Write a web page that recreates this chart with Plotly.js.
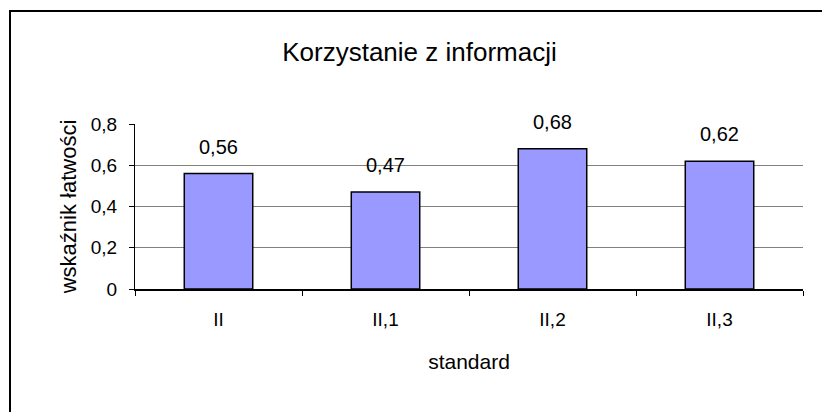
<!DOCTYPE html>
<html>
<head>
<meta charset="utf-8">
<script src="https://cdn.plot.ly/plotly-3.0.1.min.js"></script>
<style>
html,body{margin:0;padding:0;background:#fff;}
#chart{width:822px;height:412px;}
</style>
</head>
<body>
<div id="chart"></div>
<script>
const categories = ["II", "II,1", "II,2", "II,3"];
const values = [0.56, 0.47, 0.68, 0.62];
const chartTitle = "Korzystanie z informacji";
const xTitle = "standard";
const yTitle = "wskaźnik łatwości";

const FONT = "Arial, 'Liberation Sans', sans-serif";

const trace = {
  type: "bar",
  x: categories,
  y: values,
  marker: { color: "#9999FF", line: { color: "#000000", width: 1.5 } },
  width: 0.41,
  hoverinfo: "x+y"
};

const annotations = categories.map((c, i) => ({
  x: c, y: values[i], xref: "x", yref: "y",
  text: values[i].toFixed(2).replace(".", ","),
  showarrow: false, yanchor: "middle", yshift: 27,
  font: { family: FONT, size: 20, color: "#000" }
}));

const layout = {
  width: 822, height: 412,
  margin: { l: 135, r: 19, t: 124, b: 123 },
  paper_bgcolor: "#fff", plot_bgcolor: "#fff",
  separators: ", ",
  showlegend: false,
  font: { family: FONT, size: 20, color: "#000" },
  title: { text: chartTitle, font: { family: FONT, size: 26, color: "#000" },
           x: 419.5 / 822, xanchor: "center", y: 1 - 52 / 412, yanchor: "middle",
           xref: "container", yref: "container" },
  xaxis: {
    type: "category",
    showline: true, linecolor: "#000", linewidth: 2,
    ticks: "outside", tickson: "boundaries", ticklen: 5, tickcolor: "#000", tickwidth: 1,
    ticklabelstandoff: 12,
    showgrid: false, zeroline: false,
    tickfont: { family: FONT, size: 19, color: "#000" },
    title: { text: xTitle, font: { family: FONT, size: 21, color: "#000" }, standoff: 26 }
  },
  yaxis: {
    range: [0, 0.8], dtick: 0.2, tick0: 0,
    showline: true, linecolor: "#000", linewidth: 1,
    ticks: "outside", ticklen: 5, tickcolor: "#000",
    showgrid: true, gridcolor: "#808080", gridwidth: 1,
    zeroline: false,
    ticklabelstandoff: 8,
    tickfont: { family: FONT, size: 19, color: "#000" },
    title: { text: yTitle, font: { family: FONT, size: 22, color: "#000" }, standoff: 8 }
  },
  annotations: annotations,
  shapes: [{
    type: "rect", xref: "paper", yref: "paper",
    x0: (10 - 135) / 668, x1: (840 - 135) / 668,
    y0: (289 - 440) / 165, y1: (289 - 11) / 165,
    line: { color: "#000", width: 2 }, fillcolor: "rgba(0,0,0,0)", layer: "above"
  }]
};

Plotly.newPlot("chart", [trace], layout, { displayModeBar: false, staticPlot: true });
</script>
</body>
</html>
